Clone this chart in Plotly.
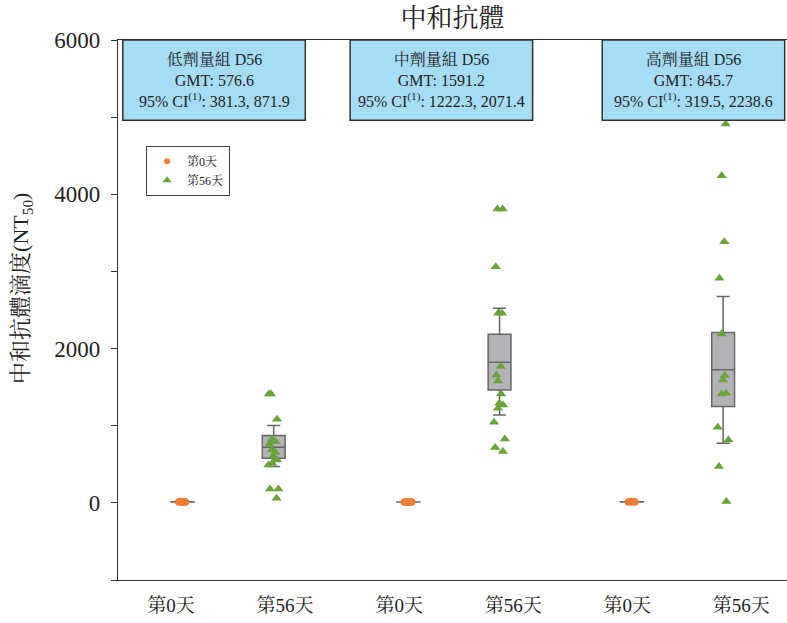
import plotly.graph_objects as go

# ---------------- data ----------------
groups = ["低劑量組", "中劑量組", "高劑量組"]
days = ["第0天", "第56天"]
tick_labels = ["第0天", "第56天", "第0天", "第56天", "第0天", "第56天"]

low_d0 = [10, 12, 15, 20, 8, 10, 18, 10, 10, 14, 12, 10, 20, 10, 15]
mid_d0 = [8, 10, 10, 12, 10, 15, 10, 8, 10, 12, 10, 10, 14, 10, 10, 12]
high_d0 = [10, 15, 20, 12, 10, 18, 10, 14, 20, 10, 12, 16, 10]

low_d56 = [1412, 1412, 1084, 825, 795, 760, 687, 652, 600, 557, 514, 492, 181, 181, 61]
mid_d56 = [3810, 3810, 3062, 2458, 2458, 1766, 1659, 1581, 1412, 1290, 1270, 1227, 1046, 829, 717, 665]
high_d56 = [4910, 4241, 3386, 2912, 2190, 1650, 1594, 1421, 1412, 981, 816, 471, 17]

# box statistics (q1, median, q3, lower whisker, upper whisker)
d0_q1 = [10, 10, 10]
d0_med = [12, 10, 12]
d0_q3 = [14, 12, 15]
d0_lo = [8, 8, 10]
d0_hi = [20, 15, 20]

d56_q1 = [579, 1464, 1248]
d56_med = [721, 1823, 1727]
d56_q3 = [872, 2186, 2207]
d56_lo = [470, 1140, 773]
d56_hi = [1002, 2523, 2674]

gmt_labels = ["GMT: 576.6", "GMT: 1591.2", "GMT: 845.7"]
ci_labels = ["381.3, 871.9", "1222.3, 2071.4", "319.5, 2238.6"]

title_text = "中和抗體"
y_title = "中和抗體滴度(NT<sub>50</sub>)"

# ---------------- layout constants ----------------
GROUP_CENTERS = [0.5, 2.48, 4.44]
INFO_CENTERS = [0.377, 2.37, 4.58]
DAY_OFFSET = 0.4
BOX_HALF = 0.8
FONT = "Liberation Serif, 'Noto Serif CJK TC', 'Noto Sans CJK TC', serif"
ORANGE = "#f07d32"
GREEN = "#6aa339"
BOX_FILL = "#b3b3b7"
BOX_LINE = "#666666"

d0_x = [c - DAY_OFFSET for c in GROUP_CENTERS]
d56_x = [c + DAY_OFFSET for c in GROUP_CENTERS]

fig = go.Figure()

# box stats traces
fig.add_trace(go.Box(
    x=d0_x, q1=d0_q1, median=d0_med, q3=d0_q3, lowerfence=d0_lo, upperfence=d0_hi,
    width=0.2, whiskerwidth=0.57, fillcolor=BOX_FILL, line=dict(color=BOX_LINE, width=1.5),
    boxpoints=False, showlegend=False, hoverinfo="skip"))
fig.add_trace(go.Box(
    x=d56_x, q1=d56_q1, median=d56_med, q3=d56_q3, lowerfence=d56_lo, upperfence=d56_hi,
    width=0.2, whiskerwidth=0.57, fillcolor=BOX_FILL, line=dict(color=BOX_LINE, width=1.5),
    boxpoints=False, showlegend=False, hoverinfo="skip"))

# sample points (drawn by the library's jitter on invisible boxes)
for xs, vals in zip(d0_x, [low_d0, mid_d0, high_d0]):
    fig.add_trace(go.Box(
        x=[xs] * len(vals), y=vals, width=0.2, boxpoints="all", jitter=0.5, pointpos=0,
        fillcolor="rgba(0,0,0,0)", line=dict(width=0, color="rgba(0,0,0,0)"),
        marker=dict(color=ORANGE, size=7, symbol="circle"), showlegend=False))
for xs, vals in zip(d56_x, [low_d56, mid_d56, high_d56]):
    fig.add_trace(go.Box(
        x=[xs] * len(vals), y=vals, width=0.2, boxpoints="all", jitter=0.6, pointpos=0,
        fillcolor="rgba(0,0,0,0)", line=dict(width=0, color="rgba(0,0,0,0)"),
        marker=dict(color=GREEN, size=9, symbol="triangle-up"), showlegend=False))

# legend entries
fig.add_trace(go.Scatter(x=[None], y=[None], mode="markers", name=days[0],
                         marker=dict(color=ORANGE, size=6, symbol="circle")))
fig.add_trace(go.Scatter(x=[None], y=[None], mode="markers", name=days[1],
                         marker=dict(color=GREEN, size=8, symbol="triangle-up")))

# info boxes
shapes = []
annotations = []
for bc, g, gm, ci in zip(INFO_CENTERS, groups, gmt_labels, ci_labels):
    shapes.append(dict(type="rect", xref="x", yref="y", x0=bc - BOX_HALF, x1=bc + BOX_HALF,
                       y0=4960, y1=6000, fillcolor="#a6dcf5",
                       line=dict(color="#333333", width=1.5), layer="above"))
    annotations.append(dict(
        xref="x", yref="y", x=bc, y=5480, showarrow=False, align="center",
        text=f"{g} D56<br>{gm}<br>95% CI<sup>(1)</sup>: {ci}",
        font=dict(family=FONT, size=16, color="#222222")))

# y-axis title as rotated annotation
annotations.append(dict(
    xref="paper", yref="paper", x=0, y=0.539, xshift=-96, showarrow=False,
    textangle=-90, xanchor="center", yanchor="middle", text=y_title,
    font=dict(family=FONT, size=22, color="#222222")))

fig.update_layout(
    width=787, height=623, autosize=False,
    margin=dict(l=118, r=0, t=40, b=43, autoexpand=False),
    plot_bgcolor="white", paper_bgcolor="white",
    boxmode="overlay",
    font=dict(family=FONT, color="#222222"),
    title=dict(text=title_text, x=0.5, xref="paper", y=1 - 18 / 623, yref="container",
               yanchor="middle", xanchor="center", automargin=False,
               font=dict(family=FONT, size=26, color="#222222")),
    xaxis=dict(range=[-0.465, 5.40], tickvals=[0, 1, 2, 3, 4, 5], ticktext=tick_labels,
               showline=True, linecolor="#333333", linewidth=1.2, mirror=True,
               ticks="", showgrid=False, zeroline=False, automargin=False,
               ticklabelstandoff=8,
               tickfont=dict(family=FONT, size=19)),
    yaxis=dict(range=[-1000, 6000], tickvals=[0, 2000, 4000, 6000],
               ticks="outside", ticklen=6, tickcolor="#333333", ticklabelstandoff=6,
               minor=dict(dtick=1000, ticks="outside", ticklen=6, tickcolor="#333333"),
               showline=True, linecolor="#333333", linewidth=1.2,
               showgrid=False, zeroline=False, automargin=False,
               tickfont=dict(family=FONT, size=23)),
    legend=dict(x=0.042, y=0.804, xanchor="left", yanchor="top",
                bordercolor="#444444", borderwidth=1, bgcolor="white",
                font=dict(family=FONT, size=12), itemwidth=30, tracegroupgap=0),
    shapes=shapes, annotations=annotations,
)

fig.write_html(
    "out.html",
    config={"displayModeBar": False},
    post_script="document.body.style.margin='0px';document.body.style.overflow='hidden';",
)
